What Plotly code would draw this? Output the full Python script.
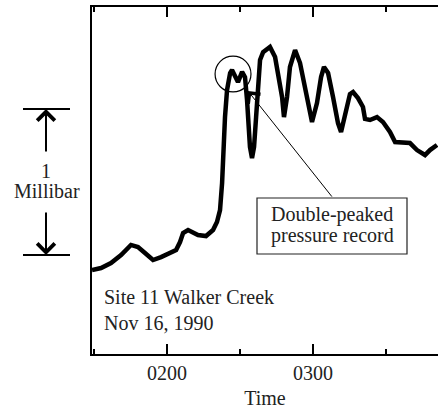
import plotly.graph_objects as go

# Time in decimal hours (2.0 = 0200), relative pressure in millibars
time_h = [1.486, 1.548, 1.616, 1.685, 1.753, 1.801, 1.849, 1.904, 1.959, 2.027,
          2.062, 2.089, 2.110, 2.144, 2.212, 2.267, 2.315, 2.342, 2.363, 2.377,
          2.384, 2.397, 2.411, 2.432, 2.445, 2.466, 2.486, 2.514, 2.534, 2.548,
          2.555, 2.568, 2.582, 2.596, 2.610, 2.623, 2.637, 2.658, 2.705, 2.740,
          2.760, 2.788, 2.801, 2.822, 2.842, 2.877, 2.911, 2.945, 2.979, 2.993,
          3.027, 3.055, 3.075, 3.103, 3.137, 3.171, 3.192, 3.219, 3.253, 3.274,
          3.308, 3.342, 3.356, 3.390, 3.438, 3.479, 3.527, 3.562, 3.616, 3.664,
          3.712, 3.767, 3.801, 3.849]
pressure_mb = [0.575, 0.589, 0.623, 0.678, 0.747, 0.733, 0.692, 0.644, 0.664, 0.692,
               0.712, 0.767, 0.829, 0.849, 0.815, 0.808, 0.849, 0.904, 0.986, 1.171,
               1.397, 1.623, 1.808, 1.925, 1.945, 1.897, 1.863, 1.932, 1.897, 1.740,
               1.582, 1.418, 1.342, 1.418, 1.623, 1.856, 2.014, 2.068, 2.103, 2.034,
               1.925, 1.760, 1.623, 1.760, 1.966, 2.082, 1.993, 1.829, 1.671, 1.589,
               1.719, 1.897, 1.966, 1.925, 1.760, 1.582, 1.521, 1.651, 1.781, 1.795,
               1.753, 1.692, 1.610, 1.603, 1.623, 1.589, 1.521, 1.452, 1.452, 1.445,
               1.397, 1.363, 1.397, 1.432]

major_ticks = [2, 3]
major_labels = ["0200", "0300"]
minor_ticks = [1.5, 2.5, 3.5]

x_range = [1.486, 3.856]
y_range = [0, 2.377]
scale_bottom_mb = 0.678   # 1 millibar scale bar
scale_top_mb = scale_bottom_mb + 1.0
circle_x = [2.329, 2.575]
circle_y = [1.795, 2.041]
callout_pt = (2.555, 1.801)

W, H = 438, 410
ML, MR, MT, MB = 92, 0, 7, 56
PW, PH = W - ML - MR, H - MT - MB

def px(xp):
    return (xp - ML) / PW

def py(yp):
    return (H - MB - yp) / PH

def ymb(v):
    return (v - y_range[0]) / (y_range[1] - y_range[0])

FONT = "Liberation Serif, Times New Roman, serif"
TXT = "#222222"

fig = go.Figure()
fig.add_trace(go.Scatter(x=time_h, y=pressure_mb, mode="lines",
                         line=dict(color="black", width=4.5),
                         showlegend=False, hoverinfo="skip"))

shapes = [
    dict(type="circle", xref="x", yref="y", x0=circle_x[0], x1=circle_x[1],
         y0=circle_y[0], y1=circle_y[1], line=dict(color="black", width=1.2)),
    dict(type="rect", xref="paper", yref="paper", x0=px(257), x1=px(407),
         y0=py(254), y1=py(198), line=dict(color="#222", width=1.2),
         fillcolor="white"),
    dict(type="line", xref="paper", yref="paper", x0=px(23), x1=px(70),
         y0=ymb(scale_top_mb), y1=ymb(scale_top_mb), line=dict(color="black", width=2)),
    dict(type="line", xref="paper", yref="paper", x0=px(23), x1=px(70),
         y0=ymb(scale_bottom_mb), y1=ymb(scale_bottom_mb), line=dict(color="black", width=2)),
]

def text_ann(t, xp, yp, xanchor="center"):
    return dict(text=t, xref="paper", yref="paper", x=px(xp), y=py(yp),
                xanchor=xanchor, yanchor="middle", showarrow=False,
                font=dict(family=FONT, size=20, color=TXT))

annotations = [
    text_ann("Site 11 Walker Creek", 102, 297, "left"),
    text_ann("Nov 16, 1990", 102, 323, "left"),
    text_ann("1", 46, 171),
    text_ann("Millibar", 47, 191),
    text_ann("Double-peaked", 332, 214),
    text_ann("pressure record", 332, 235),
    # scale-bar arrows
    dict(text="", xref="paper", yref="paper", x=px(46), y=ymb(scale_top_mb),
         ax=0, ay=44, showarrow=True, arrowhead=4, arrowsize=1.7, arrowwidth=2,
         arrowcolor="black"),
    dict(text="", xref="paper", yref="paper", x=px(46), y=ymb(scale_bottom_mb),
         ax=0, ay=-44, showarrow=True, arrowhead=4, arrowsize=1.7, arrowwidth=2,
         arrowcolor="black"),
    # callout arrow
    dict(text="", xref="x", yref="y", x=callout_pt[0], y=callout_pt[1],
         ax=85, ay=107, showarrow=True, arrowhead=4, arrowsize=3, arrowwidth=1,
         arrowcolor="black"),
]

fig.update_layout(
    width=W, height=H,
    margin=dict(l=ML, r=MR, t=MT, b=MB, pad=0),
    paper_bgcolor="white", plot_bgcolor="white",
    font=dict(family=FONT, size=20, color=TXT),
    shapes=shapes, annotations=annotations,
    xaxis=dict(range=x_range, tickmode="array", tickvals=major_ticks,
               ticktext=major_labels, ticks="inside", ticklen=10, tickwidth=1.5,
               tickcolor="black", showline=True, linewidth=2, linecolor="black",
               mirror="ticks", showgrid=False, zeroline=False,
               minor=dict(tickmode="array", tickvals=minor_ticks, ticks="inside",
                          ticklen=5, tickwidth=1.5, tickcolor="black", showgrid=False),
               tickfont=dict(family=FONT, size=20, color=TXT),
               title=dict(text="Time", font=dict(family=FONT, size=20, color=TXT),
                          standoff=8)),
    yaxis=dict(range=y_range, showline=True, linewidth=2, linecolor="black",
               showticklabels=False, ticks="", showgrid=False, zeroline=False),
)

fig.write_html("out.html")
